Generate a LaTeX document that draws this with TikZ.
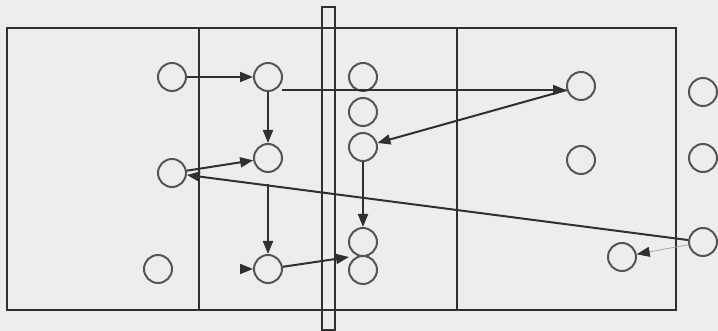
\documentclass[tikz,border=0pt]{standalone}
\usetikzlibrary{arrows.meta}
\definecolor{paper}{HTML}{EDEDED}
\definecolor{ink}{HTML}{303030}
\definecolor{ring}{HTML}{555555}
\definecolor{faint}{HTML}{A8A8A8}
\tikzset{
  frame/.style={draw=ink, line width=1.45pt},
  dot/.style={circle, draw=ring, line width=1pt, minimum size=14pt, inner sep=0pt},
  arr/.style={draw=ink, line width=1pt, -{Triangle[length=6.5pt,width=5pt]}},
  thinarr/.style={draw=faint, line width=0.4pt, -{Triangle[length=6.5pt,width=5pt,color=ink]}},
}
\begin{document}
\begin{tikzpicture}[x=0.5pt, y=-0.5pt]
  % page area
  \fill[paper] (0,0) rectangle (718,331);
  \useasboundingbox (0,0) rectangle (718,331);

  % outer frame, column dividers and the narrow bar
  \draw[frame] (7,28) rectangle (676,310);
  \draw[frame] (199,28) -- (199,310);
  \draw[frame] (457,28) -- (457,310);
  \draw[frame] (322,7) rectangle (335,330);

  % circles, left column
  \node[dot] (A) at (172,77) {};
  \node[dot] (D) at (172,173) {};
  \node[dot] (E) at (158,269) {};
  % circles, second column
  \node[dot] (B) at (268,77) {};
  \node[dot] (C) at (268,158) {};
  \node[dot] (F) at (268,269) {};
  % circles, third column
  \node[dot] (M1) at (363,77) {};
  \node[dot] (M2) at (363,112) {};
  \node[dot] (M3) at (363,147) {};
  \node[dot] (M4) at (363,242) {};
  \node[dot] (M5) at (363,270) {};
  % circles, fourth column
  \node[dot] (G) at (581,86) {};
  \node[dot] (H) at (581,160) {};
  \node[dot] (P) at (622,257) {};
  % circles outside the frame
  \node[dot] (R1) at (703,92) {};
  \node[dot] (R2) at (703,158) {};
  \node[dot] (R3) at (703,242) {};

  % helper points
  \coordinate (bR) at (282,90);
  \coordinate (fL) at (241,269);
  \coordinate (m45) at (349,257);

  % connectors
  \draw[arr] (A) -- (B);
  \draw[arr] (B) -- (C);
  \draw[arr] (bR) -- (bR -| G.west);
  \draw[arr] (G) -- (M3);
  \draw[arr] (D) -- (C);
  \draw[arr] (R3) -- (D);
  \draw[arr, shorten <=5.5pt] (C) -- (F);
  \draw[arr] (fL) -- (F);
  \draw[arr] (F) -- (m45);
  \draw[arr] (M3) -- (M4);
  \draw[thinarr] (R3) -- (P);
\end{tikzpicture}
\end{document}
